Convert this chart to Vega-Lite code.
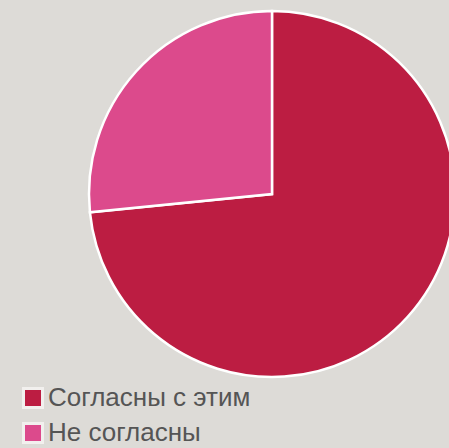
{
  "$schema": "https://vega.github.io/schema/vega-lite/v6.json",
  "width": 544,
  "height": 388,
  "autosize": "none",
  "padding": {"left": 0, "top": 0, "right": 0, "bottom": 60},
  "background": "#DDDBD7",
  "data": {"values": [
    {"cat": "Согласны с этим", "value": 73.4, "ord": 1},
    {"cat": "Не согласны", "value": 26.6, "ord": 2}
  ]},
  "mark": {"type": "arc", "outerRadius": 183, "stroke": "white", "strokeWidth": 2.5},
  "encoding": {
    "theta": {"field": "value", "type": "quantitative", "stack": true},
    "order": {"field": "ord", "type": "quantitative"},
    "color": {
      "field": "cat", "type": "nominal",
      "scale": {"domain": ["Согласны с этим", "Не согласны"], "range": ["#BC1D42", "#DC4A8C"]},
      "legend": {
        "title": null, "orient": "none", "legendX": 20, "legendY": 385,
        "symbolType": "square", "symbolSize": 361, "symbolStrokeColor": "#F2F0EE", "symbolStrokeWidth": 3,
        "symbolOpacity": 1,
        "labelFont": "Liberation Sans", "labelFontSize": 26, "labelColor": "#555555",
        "labelOffset": 2, "rowPadding": 3, "labelLimit": 400
      }
    }
  },
  "config": {"view": {"stroke": null}}
}
